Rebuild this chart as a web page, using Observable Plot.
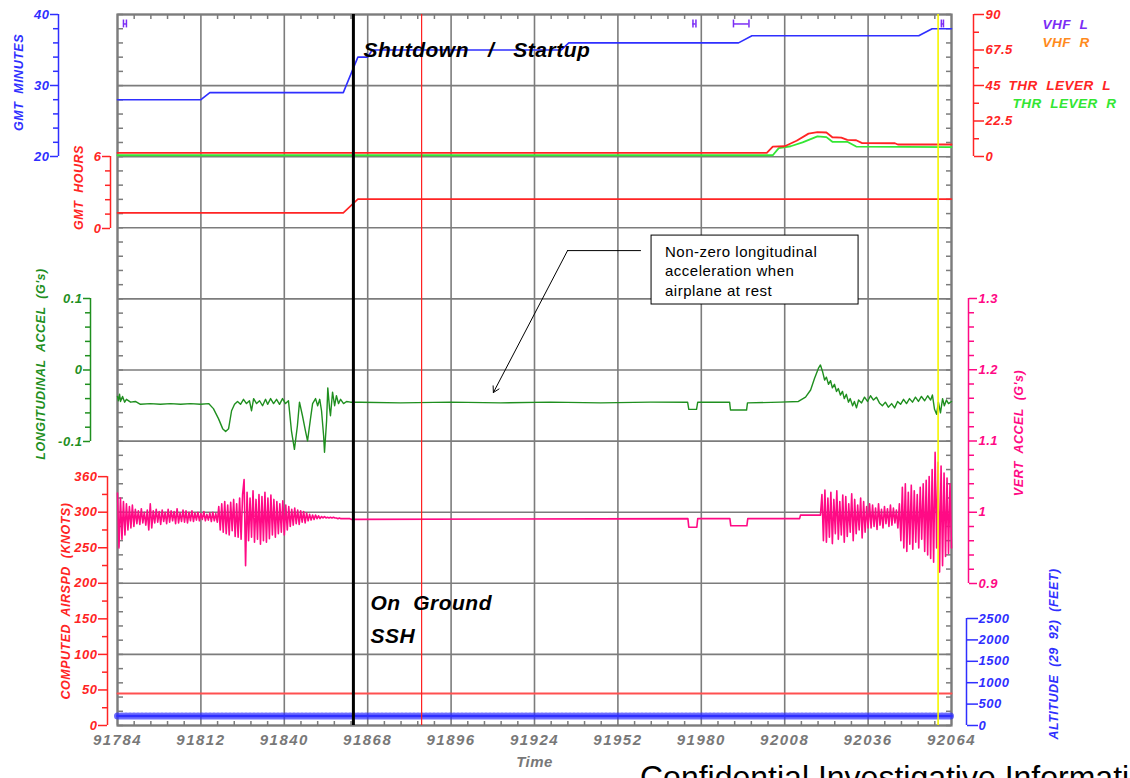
<!DOCTYPE html>
<html><head><meta charset="utf-8">
<script src="https://cdn.jsdelivr.net/npm/d3@7"></script>
<script src="https://cdn.jsdelivr.net/npm/@observablehq/plot@0.6"></script>
<style>
html,body{margin:0;padding:0;background:#fff;overflow:hidden;}
#chart{position:relative;width:1130px;height:778px;}
#chart svg{position:absolute;left:0;top:0;}
#chart svg text{letter-spacing:0.5px;}
#chart g[aria-label="x-axis tick label"] text{letter-spacing:1.5px;}
#chart g[aria-label="title"] text{letter-spacing:1.2px;}
#chart g[aria-label="note"] text{letter-spacing:0;}
#caption{position:absolute;left:640px;top:761px;font:32px "Liberation Sans",Arial,sans-serif;color:#000;white-space:nowrap;line-height:32px;}
</style></head>
<body><div id="chart"></div><div id="caption">Confidential Investigative Information</div>
<script>
// ---------------- DATA ----------------
const timeDomain = [91784, 92064];
const timeTicks = [91784, 91812, 91840, 91868, 91896, 91924, 91952, 91980, 92008, 92036, 92064];

const minutesTicks = [20, 30, 40];
const minutesMinor = [22, 24, 26, 28, 32, 34, 36, 38];
const gmtMinutes = [[91784,28],[91812,28],[91815,29],[91859.8,29],[91864.7,34],[91868,34],[91869.5,35],[91933,35],[91935.5,36],[91992.5,36],[91997,37],[92053,37],[92057.5,38],[92064,38]];

const hoursTicks = [0, 6];
const hoursMinor = [1.2, 2.4, 3.6, 4.8];
const gmtHours = [[91784,1.3],[91859.8,1.3],[91864.7,2.45],[92064,2.45]];

const thrTicks = [0, 22.5, 45, 67.5, 90];
const thrLabels = ["0", "22.5", "45", "67.5", "90"];
const thrMinor = [11.25, 33.75, 56.25, 78.75];
const thrLeverL = [[91784,2.3],[92002,2.3],[92004,6.3],[92008,6.5],[92012,10],[92016,14.5],[92019,15.4],[92022,15.2],[92024,12.2],[92027,12],[92029,10.5],[92032,10.3],[92034,8.5],[92045,8.4],[92046,7.6],[92064,7.6]];
const thrLeverR = [[91784,0.8],[92004,0.8],[92006,5.3],[92010,6.5],[92014,9],[92019,12.7],[92022,12.3],[92024,9.3],[92029,9.3],[92032,6.3],[92064,6.0]];
const vhfLKeyed = [[91786.0,91787.0],[91977.2,91978.2],[91990.8,91996.0],[92060.6,92061.3]];
const vhfLevel = 84;
const legendLabels = ["VHF  L", "VHF  R", "THR  LEVER  L", "THR  LEVER  R"];

const longTicks = [-0.1, 0, 0.1];
const longLabels = ["-0.1", "0", "0.1"];
const longMinor = [-0.08, -0.06, -0.04, -0.02, 0.02, 0.04, 0.06, 0.08];
const longAccel = [
 [91784,-0.037],[91784.3,-0.043],[91784.7,-0.034],[91785,-0.044],[91785.7,-0.037],[91786.4,-0.045],[91787,-0.041],[91788.4,-0.045],[91790,-0.044],[91791.7,-0.048],
 [91795,-0.047],[91798.4,-0.048],[91801.8,-0.047],[91805.2,-0.048],[91808.5,-0.047],[91811.9,-0.048],[91814.6,-0.047],[91816.2,-0.054],[91817.9,-0.068],[91819.3,-0.082],
 [91820.3,-0.086],[91821.3,-0.082],[91822.3,-0.057],[91823.3,-0.048],[91824.3,-0.044],[91825.3,-0.048],[91826.3,-0.041],[91827.3,-0.047],[91828.3,-0.043],[91829,-0.057],
 [91829.7,-0.040],[91830.7,-0.047],[91831.7,-0.043],[91832.7,-0.050],[91833.7,-0.041],[91834.4,-0.048],[91835.4,-0.040],[91836.4,-0.047],[91837.4,-0.041],[91838.4,-0.048],
 [91839.4,-0.040],[91840.4,-0.047],[91841.4,-0.043],[91842.4,-0.085],[91843.4,-0.111],[91844.4,-0.078],[91845.1,-0.045],[91846.1,-0.064],[91847.1,-0.085],[91847.8,-0.099],
 [91848.8,-0.068],[91849.5,-0.047],[91850.5,-0.040],[91851.2,-0.050],[91851.9,-0.041],[91852.5,-0.057],[91853.2,-0.092],[91853.5,-0.115],[91854.2,-0.071],[91854.6,-0.025],
 [91855.2,-0.054],[91855.5,-0.064],[91856.2,-0.031],[91856.9,-0.050],[91857.5,-0.036],[91858.2,-0.047],[91858.9,-0.041],[91859.9,-0.047],[91860.9,-0.044],[91862.2,-0.045],
 [91865.6,-0.045],[91879,-0.046],[91895.8,-0.045],[91912.6,-0.046],[91929.4,-0.045],[91946.2,-0.046],[91963,-0.045],[91975.4,-0.045],[91975.8,-0.055],[91978.4,-0.055],
 [91978.8,-0.045],[91989.5,-0.045],[91989.8,-0.056],[91995.2,-0.056],[91995.5,-0.046],[92006.6,-0.045],[92012.6,-0.044],[92015,-0.038],[92016.7,-0.028],[92018,-0.012],
 [92019.4,0.003],[92020,0.007],[92020.7,-0.002],[92021.4,-0.014],[92022,-0.010],[92022.7,-0.020],[92023.4,-0.015],[92024,-0.025],[92024.7,-0.020],[92025.4,-0.030],
 [92026,-0.026],[92026.7,-0.035],[92027.4,-0.030],[92028,-0.040],[92028.7,-0.034],[92029.4,-0.045],[92030,-0.040],[92030.8,-0.050],[92031.4,-0.044],[92032.1,-0.053],
 [92032.8,-0.042],[92033.8,-0.046],[92034.8,-0.038],[92035.8,-0.044],[92036.8,-0.036],[92037.8,-0.042],[92038.8,-0.038],[92039.8,-0.046],[92040.8,-0.050],[92041.8,-0.045],
 [92042.8,-0.052],[92043.9,-0.047],[92044.9,-0.053],[92045.9,-0.044],[92046.9,-0.048],[92047.9,-0.041],[92048.9,-0.047],[92049.9,-0.040],[92050.9,-0.045],[92051.9,-0.038],
 [92052.9,-0.044],[92053.9,-0.037],[92055,-0.043],[92056,-0.036],[92057,-0.042],[92057.6,-0.035],[92058.3,-0.055],[92059,-0.062],[92059.6,-0.045],[92060.3,-0.060],
 [92061,-0.040],[92061.6,-0.050],[92062.3,-0.042],[92063,-0.047],[92064,-0.044]
];

const vertTicks = [0.9, 1.0, 1.1, 1.2, 1.3];
const vertLabels = ["0.9", "1", "1.1", "1.2", "1.3"];
const vertMinor = [0.92,0.94,0.96,0.98,1.02,1.04,1.06,1.08,1.12,1.14,1.16,1.18,1.22,1.24,1.26,1.28];
const vertSampleStep = 0.5;
const vertLeftStart = 91784;
const vertLeft = [
 1.027,0.950,1.020,0.962,1.015,0.968,
 1.012,0.975,1.008,0.978,1.010,0.980,
 1.004,0.984,1.002,0.983,1.005,0.985,1.000,0.982,1.003,
 0.975,1.012,0.978,
 1.002,0.985,1.004,0.986,1.001,0.983,1.003,0.987,1.000,0.984,1.004,0.986,1.002,0.988,1.001,0.984,1.005,0.985,0.999,0.987,1.003,0.986,1.002,0.985,1.000,0.988,1.002,
 0.987,0.999,0.989,1.000,0.988,0.998,0.990,1.001,0.988,0.997,0.989,0.999,0.987,1.000,0.988,0.998,0.986,
 1.008,0.975,1.012,0.972,1.015,0.970,1.010,0.968,1.014,0.974,1.018,0.966,1.012,
 0.965,1.020,0.962,1.025,1.046,0.925,
 1.028,0.960,1.020,0.965,1.030,0.958,1.018,0.962,1.025,0.955,1.022,0.960,1.028,0.958,1.020,0.963,1.024,
 0.968,1.018,0.965,1.015,0.970,1.012,0.972,1.016,0.968,1.010,0.975,1.008,
 0.980,1.004,0.982,1.006,0.984,1.003,0.983,1.002,0.986,1.001,0.985,0.999,
 0.988,0.997,0.989,0.996,0.990,0.996,0.991,0.995,0.991,0.994,0.992,0.994,0.992,
 0.993,0.992,0.993,0.992,0.993,0.992,0.992,0.991,0.992,0.991,0.991,0.991,0.991,0.991,0.991,0.991,0.990,0.990
];
const vertMid = [[91863.5,0.990],[91975.5,0.991],[91975.8,0.979],[91978.5,0.979],[91978.8,0.991],[91989.6,0.991],[91989.9,0.981],[91995.3,0.981],[91995.6,0.991],[92013,0.991],[92013.3,0.996],[92020,0.996]];
const vertRightStart = 92020.5;
const vertRight = [
 1.025,0.960,1.031,0.958,1.020,0.965,1.028,0.956,1.018,0.970,1.030,0.962,1.015,0.968,1.024,0.958,1.022,0.966,1.012,0.972,1.026,0.960,1.018,0.970,1.010,0.975,1.020,0.964,1.015,0.972,1.008,0.978,1.012,
 0.978,1.010,0.980,1.006,0.976,1.012,0.982,1.004,0.978,1.008,0.984,1.005,0.980,1.010,0.982,1.006,0.985,1.003,0.978,1.012,
 0.960,1.035,0.950,1.040,0.945,1.028,0.955,1.038,0.948,1.030,
 0.958,1.025,0.950,1.035,0.962,1.040,0.945,1.045,0.940,1.050,
 0.935,1.060,0.930,1.084,0.950,1.070,0.916,1.065,
 0.925,1.055,0.938,1.048,0.942,1.040,0.950
];

const airspdTicks = [0, 50, 100, 150, 200, 250, 300, 350];
const airspdLabels = ["0", "50", "100", "150", "200", "250", "300", "360"];
const airspdMinor = [25, 75, 125, 175, 225, 275, 325];
const computedAirspd = [[91784,45],[92064,45]];

const altTicks = [0, 500, 1000, 1500, 2000, 2500];
const altitude = [[91784,220],[92064,220]];

const eventTimes = [91863.2, 91886.1, 92059.5];
const annotations = ["Shutdown   /   Startup", "On  Ground", "SSH"];
const noteText = "Non-zero longitudinal\nacceleration when\nairplane at rest";

// ---------------- LAYOUT / STYLE ----------------
const W = 1130, H = 778, FL = 117, FR = 951, FT = 14, FB = 725;
const BLUE = "#2f2fff", RED = "#ff2424", LRED = "#ff5050", PINK = "#ff0a85", DKGREEN = "#1f8f1f",
      LTGREEN = "#33e633", PURPLE = "#7b2df5", ORANGE = "#ff8a1c", GRID = "#7c7c7c";
const legendColors = [PURPLE, ORANGE, RED, LTGREEN];
const FONT = "'Liberation Sans', Arial, sans-serif";
const tickFont = {fontSize: 13, fontWeight: "bold", fontStyle: "italic", fontFamily: FONT};
const titleFont = {fontSize: 12.5, fontWeight: "bold", fontStyle: "italic", fontFamily: FONT, rotate: -90, textAnchor: "middle", lineAnchor: "middle", ariaLabel: "title"};
const fmt = (vals, labs) => { const m = new Map(vals.map((v, i) => [v, labs[i]])); return d => m.get(d); };
const xy = {x: d => d[0], y: d => d[1]};

function layer(yDomain, top, bottom, marks, xAxisNull = true) {
  return Plot.plot({
    width: W, height: H,
    marginLeft: FL, marginRight: W - FR, marginTop: top, marginBottom: H - bottom,
    x: {domain: timeDomain, axis: xAxisNull ? null : undefined},
    y: {domain: yDomain, axis: null},
    style: {background: "transparent", fontFamily: FONT},
    marks
  });
}

function leftAxis(dx, lo, hi, major, minor, color, fmtFn, tickSize, pad) {
  return [
    Plot.ruleX([timeDomain[0]], {y1: lo, y2: hi, dx, stroke: color, strokeWidth: 1.5}),
    Plot.axisY({anchor: "left", ticks: minor, tickSize: 5, dx, stroke: color, fill: "none", label: null, strokeWidth: 1.5}),
    Plot.axisY({anchor: "left", ticks: major, tickSize, tickPadding: pad, dx, stroke: color, fill: color, label: null, strokeWidth: 1.5, tickFormat: fmtFn, ...tickFont})
  ];
}
function rightAxis(dx, lo, hi, major, minor, color, fmtFn, tickSize, pad) {
  return [
    Plot.ruleX([timeDomain[1]], {y1: lo, y2: hi, dx, stroke: color, strokeWidth: 1.5}),
    Plot.axisY({anchor: "right", ticks: minor, tickSize: 5, dx, stroke: color, fill: "none", label: null, strokeWidth: 1.5}),
    Plot.axisY({anchor: "right", ticks: major, tickSize, tickPadding: pad, dx, stroke: color, fill: color, label: null, strokeWidth: 1.5, tickFormat: fmtFn, ...tickFont})
  ];
}

const chart = document.getElementById("chart");
const gridRows = d3.range(0, 1001, 100);
const frameMinorY = d3.range(0, 1001, 20);
const frameMinorX = timeTicks.flatMap((t, i) => i < timeTicks.length - 1 ? [1, 2, 3, 4].map(k => t + k * 5.6) : []);

const base = layer([0, 1000], FT, FB, [
  Plot.gridX(timeTicks, {stroke: GRID, strokeOpacity: 1, strokeWidth: 1.6}),
  Plot.gridY(gridRows, {stroke: GRID, strokeOpacity: 1, strokeWidth: 1.6}),
  Plot.frame({stroke: GRID, strokeWidth: 2.2}),
  Plot.axisX({anchor: "bottom", ticks: frameMinorX, tickSize: 5, dy: -(FB - FT), stroke: GRID, fill: "none", label: null, strokeWidth: 1.5}),
  Plot.axisX({anchor: "top", ticks: frameMinorX, tickSize: 5, dy: FB - FT, stroke: GRID, fill: "none", label: null, strokeWidth: 1.5}),
  Plot.axisY({anchor: "right", ticks: frameMinorY, tickSize: 5, dx: -(FR - FL), stroke: GRID, fill: "none", label: null, strokeWidth: 1.5}),
  Plot.axisY({anchor: "left", ticks: frameMinorY, tickSize: 5, dx: FR - FL, stroke: GRID, fill: "none", label: null, strokeWidth: 1.5}),
  Plot.axisX({anchor: "bottom", ticks: timeTicks, tickSize: 0, tickPadding: 9, fill: "#787878", label: null, tickFormat: d => String(d), fontSize: 15, fontWeight: "bold", fontStyle: "italic", fontFamily: FONT}),
  Plot.text(["Time"], {frameAnchor: "bottom", dy: 37, lineAnchor: "middle", fill: "#787878", fontSize: 15, fontWeight: "bold", fontStyle: "italic", fontFamily: FONT}),
  ...leftAxis(-10, 0, 350, airspdTicks, airspdMinor, RED, fmt(airspdTicks, airspdLabels), 9, 1),
  Plot.text(["COMPUTED  AIRSPD  (KNOTS)"], {frameAnchor: "left", y: 175, dx: -52, fill: RED, ...titleFont}),
  Plot.line(computedAirspd, {...xy, stroke: LRED, strokeWidth: 2})
], false);

const minutesLayer = layer([20, 40], FT, 156, [
  ...leftAxis(-59, 20, 40, minutesTicks, minutesMinor, BLUE, d => String(d), 8, 1),
  Plot.text(["GMT  MINUTES"], {frameAnchor: "left", y: 30, dy: -3, dx: -99, fill: BLUE, ...titleFont}),
  Plot.line(gmtMinutes, {...xy, stroke: BLUE, strokeWidth: 1.6})
]);

const hoursLayer = layer([0, 6], 156, 228, [
  ...leftAxis(-7, 0, 6, hoursTicks, hoursMinor, RED, d => String(d), 8, 1),
  Plot.text(["GMT  HOURS"], {frameAnchor: "left", y: 3, dy: -5, dx: -39, fill: RED, ...titleFont}),
  Plot.line(gmtHours, {...xy, stroke: RED, strokeWidth: 1.6})
]);

const vhfTicks = vhfLKeyed.flat();
const thrLayer = layer([0, 90], FT, 156, [
  ...rightAxis(22, 0, 90, thrTicks, thrMinor, RED, fmt(thrTicks, thrLabels), 10, 2),
  ...legendLabels.map((lab, i) => Plot.text([lab], {
    frameAnchor: "top-right", textAnchor: "start", lineAnchor: "middle",
    dx: [91, 91, 57, 61][i], dy: [10, 28, 71, 89][i],
    fill: legendColors[i], fontSize: 13.5, fontWeight: "bold", fontStyle: "italic", fontFamily: FONT, ariaLabel: "title"
  })),
  Plot.line(thrLeverR, {...xy, stroke: LTGREEN, strokeWidth: 1.8}),
  Plot.line(thrLeverL, {...xy, stroke: RED, strokeWidth: 1.8}),
  Plot.ruleY(vhfLKeyed, {x1: d => d[0], x2: d => d[1], y: vhfLevel, stroke: PURPLE, strokeWidth: 1.5}),
  Plot.ruleX(vhfTicks, {x: d => d, y1: vhfLevel - 2.5, y2: vhfLevel + 2.5, stroke: PURPLE, strokeWidth: 1.5})
]);

const longLayer = layer([-0.1, 0.1], 298, 441, [
  ...leftAxis(-27, -0.1, 0.1, longTicks, longMinor, DKGREEN, fmt(longTicks, longLabels), 7, 1),
  Plot.text(["LONGITUDINAL  ACCEL  (G's)"], {frameAnchor: "left", y: 0, dy: -6, dx: -77, fill: DKGREEN, ...titleFont}),
  Plot.line(longAccel, {...xy, stroke: DKGREEN, strokeWidth: 1.4}),
  Plot.rect([0], {x1: 91963.3, x2: 92032.8, y1: 0.0916, y2: 0.188, fill: "white", stroke: "black", strokeWidth: 1}),
  Plot.text([noteText], {x: 91967.8, y: 0.178, textAnchor: "start", lineAnchor: "top", lineHeight: 1.3, fontSize: 15, fill: "black", fontFamily: FONT, ariaLabel: "note"}),
  Plot.ruleY([0.167], {x1: 91935.1, x2: 91959.9, stroke: "black", strokeWidth: 1}),
  Plot.arrow([0], {x1: 91935.1, y1: 0.167, x2: 91910.2, y2: -0.0315, stroke: "black", strokeWidth: 1, headLength: 10})
]);

const vertSeries = [
  ...vertLeft.map((v, i) => [vertLeftStart + i * vertSampleStep, v]),
  ...vertMid,
  ...vertRight.map((v, i) => [vertRightStart + i * vertSampleStep, v])
];
const vertLayer = layer([0.9, 1.3], 298, 583, [
  ...rightAxis(17, 0.9, 1.3, vertTicks, vertMinor, PINK, fmt(vertTicks, vertLabels), 8, 2),
  Plot.text(["VERT  ACCEL  (G's)"], {frameAnchor: "right", y: 1.1, dy: -8, dx: 67, fill: PINK, ...titleFont}),
  Plot.line(vertSeries, {...xy, stroke: PINK, strokeWidth: 1.6})
]);

const altLayer = layer([0, 2500], 618, FB, [
  ...rightAxis(15, 0, 2500, altTicks, [], BLUE, d => String(d), 11, 1),
  Plot.text(["ALTITUDE  (29  92)  (FEET)"], {frameAnchor: "right", y: 1250, dy: -18, dx: 102, fill: BLUE, ...titleFont}),
  Plot.line(altitude, {...xy, stroke: BLUE, strokeWidth: 2.5}),
  Plot.line(altitude, {...xy, stroke: BLUE, strokeWidth: 7, strokeDasharray: "1,3", strokeOpacity: 0.7})
]);

const evFont = {fontSize: 21, fontWeight: "bold", fontStyle: "italic", fontFamily: FONT, fill: "black", textAnchor: "start", lineAnchor: "middle"};
const eventLayer = layer([0, 1000], FT, FB, [
  Plot.ruleX([eventTimes[1]], {x: d => d, y1: 0, y2: 1000, stroke: "#ff2020", strokeWidth: 1.2}),
  Plot.ruleX([eventTimes[2]], {x: d => d, y1: 0, y2: 1000, stroke: "#f5f500", strokeWidth: 1.6}),
  Plot.ruleX([eventTimes[0]], {x: d => d, y1: 0, y2: 1000, stroke: "black", strokeWidth: 3}),
  Plot.text([annotations[0]], {x: 91866.6, frameAnchor: "top", dy: 36, ...evFont}),
  Plot.text([annotations[1]], {x: 91868.9, frameAnchor: "bottom", dy: -122, ...evFont}),
  Plot.text([annotations[2]], {x: 91868.9, frameAnchor: "bottom", dy: -89, ...evFont})
]);

[base, minutesLayer, hoursLayer, thrLayer, altLayer, vertLayer, longLayer, eventLayer].forEach(s => chart.appendChild(s));
</script></body></html>
